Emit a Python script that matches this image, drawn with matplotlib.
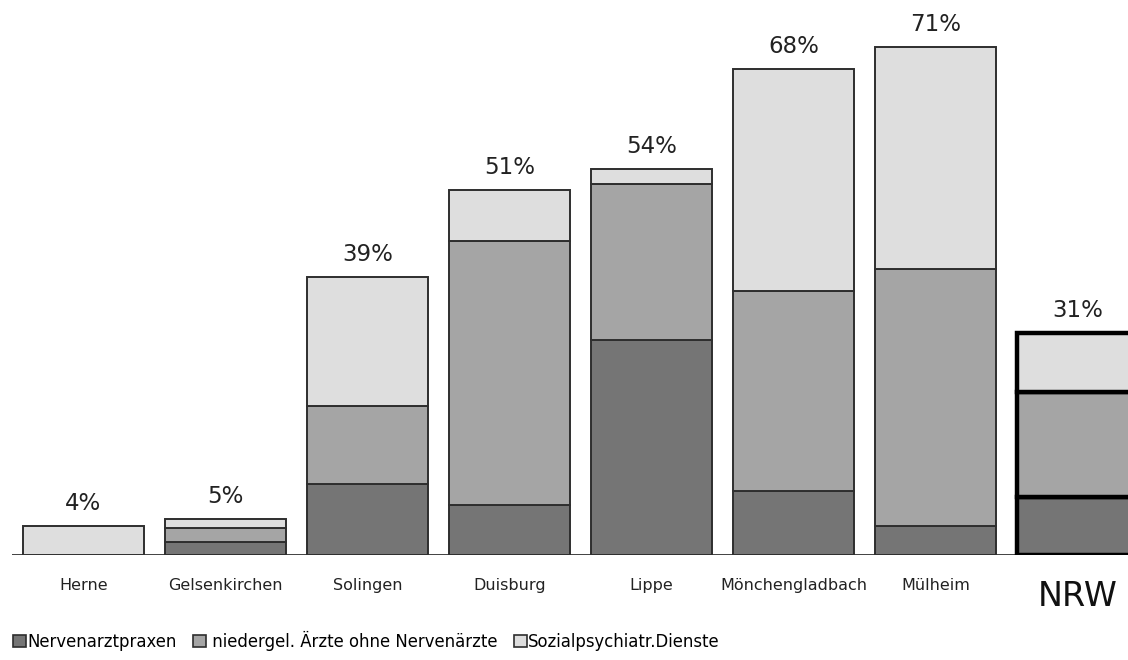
import numpy as np
import matplotlib.pyplot as plt
from matplotlib.patches import Patch

# share of each provider group (percent), stacked per region
regions = ["Herne", "Gelsenkirchen", "Solingen", "Duisburg", "Lippe",
           "Mönchengladbach", "Mülheim", "NRW"]
nervenarzt = [0.0, 1.8, 9.9, 7.0, 30.0, 8.9, 4.1, 8.1]
niedergel = [0.0, 2.0, 11.0, 36.9, 21.9, 28.0, 35.9, 14.7]
sozialpsych = [4.0, 1.2, 18.0, 7.1, 2.0, 31.0, 31.0, 8.2]
totals = ["4%", "5%", "39%", "51%", "54%", "68%", "71%", "31%"]

series_names = ["Nervenarztpraxen", " niedergel. Ärzte ohne Nervenärzte",
                "Sozialpsychiatr.Dienste"]
colors = ["#757575", "#a5a5a5", "#dedede"]

plt.rcParams['font.family'] = 'DejaVu Sans'

fig = plt.figure(figsize=(11.28, 6.6), dpi=100)
ax = fig.add_axes([0, 0.159, 1, 0.841])

x = np.arange(len(regions))
width = 0.852
bottom = np.zeros(len(regions))
for vals, col in zip([nervenarzt, niedergel, sozialpsych], colors):
    vals = np.array(vals)
    for i in range(len(regions)):
        if vals[i] <= 0:
            continue
        nrw = regions[i] == "NRW"
        ax.bar(x[i], vals[i], width, bottom=bottom[i], color=col,
               edgecolor="black" if nrw else "#2e2e2e",
               linewidth=3.2 if nrw else 1.4, zorder=3 if nrw else 2)
    bottom += vals

# percent labels above each stack
for i, lab in enumerate(totals):
    ax.text(x[i], bottom[i] + 2.25, lab, ha="center", va="baseline",
            fontsize=16.5, color="#222222")

# baseline
ax.plot([-0.504, 6.574], [0, 0], color="#333333", lw=1.3, zorder=1,
        solid_capstyle="butt")

# region names under the bars
for i, name in enumerate(regions):
    if name == "NRW":
        ax.text(x[i], -5.8, name, ha="center", va="center", fontsize=24,
                color="#111111")
    else:
        ax.text(x[i], -4.2, name, ha="center", va="center", fontsize=11.5,
                color="#222222")

ax.set_xlim(-0.588, 7.356)
ax.set_ylim(0, 77.57)
ax.axis("off")

handles = [Patch(facecolor=c, edgecolor="#2e2e2e", linewidth=1.2)
           for c in colors]
fig.legend(handles, series_names, loc="lower left",
           bbox_to_anchor=(0.0, -0.006), ncol=3, frameon=False,
           fontsize=11.9, handlelength=0.75, handleheight=0.75,
           handletextpad=0.1, columnspacing=1.0, borderaxespad=0.4)

fig.savefig("out.png", dpi=100)
